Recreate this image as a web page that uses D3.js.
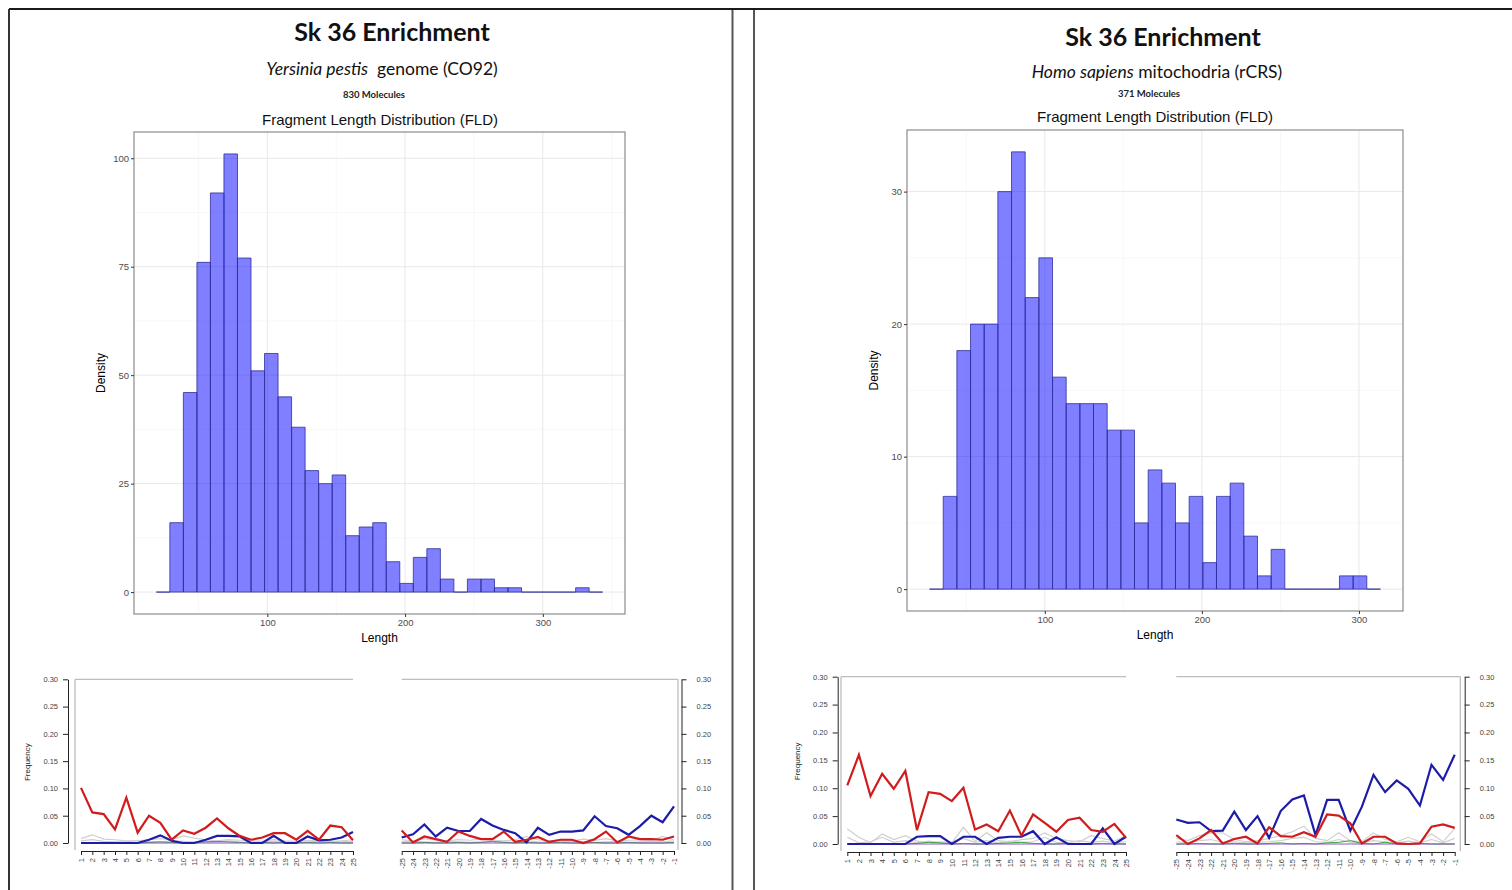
<!DOCTYPE html>
<meta charset="utf-8">
<style>
    body {
        margin: 0;
        background: #fff;
    }

    svg {
        font-family: "Liberation Sans", Arial, sans-serif;
    }

    .hist-axis path { display: none; }
    .hist-axis line { stroke: #333; }
    .hist-axis text { fill: #4d4d4d; font-size: 9.5px; }

    .dmg-axis path, .dmg-axis line { stroke: #222; }
    .dmg-axis text { fill: #444; font-size: 7.5px; }
</style>
<body>
<script src="https://d3js.org/d3.v7.min.js"></script>
<script>
    const width = 1512;
    const height = 890;

    // fragment length histograms (counts per bin)
    const ypCounts = [0, 16, 46, 76, 92, 101, 77, 51, 55, 45, 38, 28, 25, 27, 13, 15, 16, 7, 2, 8, 10, 3, 0, 3, 3, 1, 1, 0, 0, 0, 0, 1, 0];
    const ypBinStart = 19.4, ypBinWidth = 9.82;
    const hsCounts = [0, 7, 18, 20, 20, 30, 33, 22, 25, 16, 14, 14, 14, 12, 12, 5, 9, 8, 5, 7, 2, 7, 8, 4, 1, 3, 0, 0, 0, 0, 1, 1, 0];
    const hsBinStart = 26.6, hsBinWidth = 8.7;
    const ypDensityTicks = [0, 25, 50, 75, 100];
    const hsDensityTicks = [0, 10, 20, 30];
    const lengthTicks = [100, 200, 300];

    // misincorporation plots
    const pos5 = [1, 2, 3, 4, 5, 6, 7, 8, 9, 10, 11, 12, 13, 14, 15, 16, 17, 18, 19, 20, 21, 22, 23, 24, 25];
    const pos3 = [-25, -24, -23, -22, -21, -20, -19, -18, -17, -16, -15, -14, -13, -12, -11, -10, -9, -8, -7, -6, -5, -4, -3, -2, -1];
    const freqTicks = [0, 0.05, 0.10, 0.15, 0.20, 0.25, 0.30];

    const ypCT5 = [0.101, 0.056, 0.053, 0.025, 0.083, 0.019, 0.050, 0.037, 0.006, 0.023, 0.017, 0.028, 0.045, 0.027, 0.013, 0.006, 0.010, 0.018, 0.018, 0.006, 0.022, 0.006, 0.032, 0.029, 0.005];
    const ypGA5 = [0, 0, 0, 0, 0, 0, 0.006, 0.014, 0.004, 0, 0, 0.006, 0.013, 0.013, 0.012, 0, 0, 0.013, 0, 0, 0.012, 0.005, 0.006, 0.010, 0.020];
    const ypGrey5a = [0.008, 0.015, 0.007, 0.006, 0.004, 0.004, 0.006, 0.008, 0.006, 0.013, 0.009, 0.006, 0.004, 0.006, 0.005, 0.004, 0.003, 0.006, 0.004, 0.003, 0.005, 0.004, 0.003, 0.004, 0.006];
    const ypGrey5b = [0.004, 0.006, 0.003, 0.002, 0.002, 0.005, 0.003, 0.002, 0.004, 0.003, 0.002, 0.003, 0.002, 0.004, 0.002, 0.001, 0.002, 0.003, 0.002, 0.001, 0.002, 0.003, 0.002, 0.003, 0.002];
    const ypGreen5 = [0, 0.001, 0, 0, 0.001, 0, 0.001, 0.002, 0.001, 0, 0.001, 0.002, 0.003, 0.002, 0.001, 0, 0.001, 0, 0.001, 0, 0.001, 0, 0.001, 0, 0];
    const ypCT3 = [0.023, 0.001, 0.012, 0.007, 0.002, 0.021, 0.013, 0.007, 0.007, 0.021, 0.002, 0.006, 0.011, 0.002, 0.006, 0.006, 0, 0.007, 0.021, 0.001, 0.012, 0.007, 0.007, 0.006, 0.012];
    const ypGA3 = [0.010, 0.016, 0.034, 0.012, 0.028, 0.022, 0.022, 0.044, 0.032, 0.024, 0.018, 0.001, 0.028, 0.015, 0.021, 0.021, 0.023, 0.049, 0.031, 0.027, 0.015, 0.031, 0.050, 0.038, 0.067];
    const ypGrey3a = [0.006, 0.004, 0.008, 0.005, 0.004, 0.006, 0.005, 0.007, 0.005, 0.004, 0.006, 0.012, 0.006, 0.004, 0.005, 0.004, 0.007, 0.005, 0.008, 0.004, 0.005, 0.006, 0.005, 0.012, 0.006];
    const ypGrey3b = [0.002, 0.003, 0.002, 0.001, 0.003, 0.002, 0.001, 0.002, 0.003, 0.002, 0.001, 0.004, 0.002, 0.001, 0.002, 0.003, 0.002, 0.001, 0.002, 0.003, 0.001, 0.002, 0.003, 0.002, 0.004];
    const ypGreen3 = [0, 0, 0.001, 0, 0, 0.001, 0, 0.001, 0.003, 0.001, 0, 0.001, 0, 0, 0.001, 0, 0, 0.001, 0, 0, 0.001, 0, 0, 0, 0.001];

    const hsCT5 = [0.105, 0.160, 0.086, 0.126, 0.099, 0.131, 0.025, 0.093, 0.090, 0.077, 0.101, 0.026, 0.035, 0.023, 0.060, 0.015, 0.053, 0.038, 0.022, 0.043, 0.047, 0.025, 0.022, 0.036, 0.011];
    const hsGA5 = [0, 0, 0, 0, 0, 0, 0.013, 0.014, 0.014, 0, 0.013, 0.013, 0, 0.011, 0.013, 0.013, 0.023, 0, 0.012, 0, 0, 0, 0.028, 0, 0.013];
    const hsGrey5a = [0.027, 0.012, 0.002, 0.018, 0.008, 0.015, 0.005, 0.003, 0.004, 0.002, 0.030, 0.005, 0.020, 0.006, 0.004, 0.008, 0.010, 0.020, 0.010, 0.006, 0.004, 0.015, 0.010, 0.005, 0.015];
    const hsGrey5b = [0.012, 0.002, 0.004, 0.012, 0.003, 0.006, 0.002, 0.005, 0.002, 0.004, 0.010, 0.003, 0.006, 0.002, 0.005, 0.003, 0.004, 0.012, 0.003, 0.002, 0.006, 0.003, 0.005, 0.002, 0.004];
    const hsGreen5 = [0, 0, 0, 0.001, 0, 0, 0.001, 0.003, 0.002, 0, 0.001, 0, 0, 0.001, 0.002, 0.003, 0.001, 0, 0, 0.001, 0, 0, 0.001, 0, 0];
    const hsCT3 = [0.016, 0, 0.010, 0.025, 0.001, 0.009, 0.013, 0.001, 0.030, 0.014, 0.013, 0.021, 0.013, 0.053, 0.051, 0.037, 0.001, 0.013, 0.013, 0.001, 0, 0.001, 0.031, 0.035, 0.029];
    const hsGA3 = [0.044, 0.038, 0.039, 0.023, 0.024, 0.058, 0.025, 0.050, 0.011, 0.059, 0.080, 0.087, 0.016, 0.079, 0.079, 0.024, 0.067, 0.124, 0.093, 0.114, 0.099, 0.069, 0.142, 0.115, 0.160];
    const hsGrey3a = [0.010, 0.006, 0.015, 0.020, 0.020, 0.008, 0.004, 0.006, 0.010, 0.015, 0.022, 0.032, 0.010, 0.006, 0.020, 0.006, 0.004, 0.020, 0.008, 0.004, 0.012, 0.004, 0.018, 0.004, 0.028];
    const hsGrey3b = [0.004, 0.002, 0.006, 0.008, 0.003, 0.004, 0.002, 0.003, 0.004, 0.006, 0.010, 0.012, 0.004, 0.003, 0.008, 0.003, 0.002, 0.006, 0.004, 0.002, 0.005, 0.002, 0.008, 0.002, 0.010];
    const hsGreen3 = [0, 0, 0.001, 0, 0, 0.001, 0, 0, 0.001, 0.002, 0, 0.001, 0, 0.002, 0.003, 0.006, 0.001, 0, 0.003, 0, 0, 0.001, 0, 0, 0];

    const svg = d3.select('body')
        .append('svg')
        .attr('width', width)
        .attr('height', height);

    // page frame
    svg.append('line').attr('x1', 9).attr('x2', width).attr('y1', 9).attr('y2', 9)
        .attr('stroke', '#1a1a1a').attr('stroke-width', 2);
    svg.append('line').attr('x1', 9).attr('x2', 9).attr('y1', 9).attr('y2', height)
        .attr('stroke', '#333').attr('stroke-width', 2);
    [732.5, 754].forEach(x => {
        svg.append('line').attr('x1', x).attr('x2', x).attr('y1', 10).attr('y2', height)
            .attr('stroke', '#555').attr('stroke-width', 2);
    });

    const panels = [
        {
            species: 'Yersinia pestis', reference: '  genome (CO92)', molecules: '830 Molecules',
            counts: ypCounts, binStart: ypBinStart, binWidth: ypBinWidth, yTicks: ypDensityTicks,
            titleX: 392, textX: 380, textY: [41, 75, 98, 125],
            box: {left: 134, right: 625, top: 132, bottom: 614},
            dmg: {
                yTop: 679.3, yBottom: 843, xAxisY: 851,
                five: {axisX: 68, xFirst: 81, xLast: 353, frameX: 75},
                three: {axisX: 681.5, xFirst: 401.7, xLast: 674, frameX: 678}
            },
            series5: {grey: [ypGrey5a, ypGrey5b], green: ypGreen5, blue: ypGA5, red: ypCT5},
            series3: {grey: [ypGrey3a, ypGrey3b], green: ypGreen3, blue: ypGA3, red: ypCT3}
        },
        {
            species: 'Homo sapiens', reference: ' mitochodria (rCRS)', molecules: '371 Molecules',
            counts: hsCounts, binStart: hsBinStart, binWidth: hsBinWidth, yTicks: hsDensityTicks,
            titleX: 1163, textX: 1155, textY: [46, 78, 97, 122],
            box: {left: 907, right: 1403, top: 130, bottom: 611},
            dmg: {
                yTop: 676.7, yBottom: 844, xAxisY: 852,
                five: {axisX: 837.7, xFirst: 847.3, xLast: 1126, frameX: 841},
                three: {axisX: 1464.7, xFirst: 1176.3, xLast: 1454.7, frameX: 1460.3}
            },
            series5: {grey: [hsGrey5a, hsGrey5b], green: hsGreen5, blue: hsGA5, red: hsCT5},
            series3: {grey: [hsGrey3a, hsGrey3b], green: hsGreen3, blue: hsGA3, red: hsCT3}
        }
    ];

    panels.forEach(drawPanel);

    function drawPanel(p) {
        const g = svg.append('g');

        // titles
        g.append('text')
            .attr('x', p.titleX).attr('y', p.textY[0])
            .attr('text-anchor', 'middle')
            .style('font-family', 'Lato, sans-serif')
            .style('font-weight', 'bold')
            .style('font-size', '25px')
            .style('fill', '#111')
            .text('Sk 36 Enrichment');

        const sub = g.append('text')
            .attr('x', p.textX + 2).attr('y', p.textY[1])
            .attr('text-anchor', 'middle')
            .attr('xml:space', 'preserve')
            .style('white-space', 'pre')
            .style('font-family', 'Lato, sans-serif')
            .style('font-size', '17.5px')
            .style('fill', '#111');
        sub.append('tspan').style('font-style', 'italic').text(p.species);
        sub.append('tspan').text(p.reference);

        g.append('text')
            .attr('x', p.textX - 6).attr('y', p.textY[2])
            .attr('text-anchor', 'middle')
            .style('font-family', 'Lato, sans-serif')
            .style('font-weight', 'bold')
            .style('font-size', '9.5px')
            .style('fill', '#222')
            .text(p.molecules);

        g.append('text')
            .attr('x', p.textX).attr('y', p.textY[3])
            .attr('text-anchor', 'middle')
            .style('font-size', '15px')
            .style('fill', '#111')
            .text('Fragment Length Distribution (FLD)');

        drawHistogram(g, p);
        drawDamage(g, p, p.dmg.five, pos5, p.series5, 'left');
        drawDamage(g, p, p.dmg.three, pos3, p.series3, 'right');
    }

    function drawHistogram(g, p) {
        const b = p.box;
        const bins = p.counts.map((c, i) => ({
            x0: p.binStart + i * p.binWidth,
            x1: p.binStart + (i + 1) * p.binWidth,
            count: c
        }));
        const xMin = bins[0].x0, xMax = bins[bins.length - 1].x1;
        const xPad = (xMax - xMin) * 0.05;
        const yMax = d3.max(p.counts);

        const x = d3.scaleLinear().domain([xMin - xPad, xMax + xPad]).range([b.left, b.right]);
        const y = d3.scaleLinear().domain([-yMax * 0.05, yMax * 1.05]).range([b.bottom, b.top]);

        // grid
        const step = p.yTicks[1] - p.yTicks[0];
        const minorY = p.yTicks.map(t => t + step / 2).filter(t => y(t) > b.top);
        const minorX = [50, 150, 250, 350].filter(t => x(t) > b.left && x(t) < b.right);
        const grid = g.append('g');
        grid.selectAll('.minx').data(minorX).enter().append('line')
            .attr('x1', d => x(d)).attr('x2', d => x(d)).attr('y1', b.top).attr('y2', b.bottom)
            .attr('stroke', '#f4f4f4').attr('stroke-width', 0.6);
        grid.selectAll('.miny').data(minorY).enter().append('line')
            .attr('y1', d => y(d)).attr('y2', d => y(d)).attr('x1', b.left).attr('x2', b.right)
            .attr('stroke', '#f4f4f4').attr('stroke-width', 0.6);
        grid.selectAll('.majx').data(lengthTicks).enter().append('line')
            .attr('x1', d => x(d)).attr('x2', d => x(d)).attr('y1', b.top).attr('y2', b.bottom)
            .attr('stroke', '#e8e8e8').attr('stroke-width', 1);
        grid.selectAll('.majy').data(p.yTicks).enter().append('line')
            .attr('y1', d => y(d)).attr('y2', d => y(d)).attr('x1', b.left).attr('x2', b.right)
            .attr('stroke', '#e8e8e8').attr('stroke-width', 1);

        // bars
        g.append('g').selectAll('path')
            .data(bins)
            .enter().append('path')
            .attr('d', d => 'M' + x(d.x0) + ',' + y(0) + 'V' + y(d.count) + 'H' + x(d.x1) + 'V' + y(0) + 'Z')
            .attr('fill', 'rgba(0,0,255,0.5)')
            .attr('stroke', '#30309a')
            .attr('stroke-width', 0.8);

        // panel border
        g.append('rect')
            .attr('x', b.left).attr('y', b.top)
            .attr('width', b.right - b.left).attr('height', b.bottom - b.top)
            .attr('fill', 'none').attr('stroke', '#8c8c8c').attr('stroke-width', 1.2);

        g.append('g').attr('class', 'hist-axis')
            .attr('transform', 'translate(' + b.left + ',0)')
            .call(d3.axisLeft(y).tickValues(p.yTicks).tickSize(3).tickPadding(2));
        g.append('g').attr('class', 'hist-axis')
            .attr('transform', 'translate(0,' + b.bottom + ')')
            .call(d3.axisBottom(x).tickValues(lengthTicks).tickSize(3).tickPadding(2));

        g.append('text')
            .attr('transform', 'translate(' + (b.left - 29) + ',' + ((b.top + b.bottom) / 2) + ') rotate(-90)')
            .attr('text-anchor', 'middle')
            .style('font-size', '12px')
            .text('Density');
        g.append('text')
            .attr('x', (b.left + b.right) / 2).attr('y', b.bottom + 28)
            .attr('text-anchor', 'middle')
            .style('font-size', '12px')
            .text('Length');
    }

    function drawDamage(g, p, geo, positions, series, side) {
        const d = p.dmg;
        const x = d3.scalePoint().domain(positions).range([geo.xFirst, geo.xLast]);
        const y = d3.scaleLinear().domain([0, 0.30]).range([d.yBottom, d.yTop]);

        // frame (top + outer side)
        const frame = g.append('g').attr('stroke', '#bdbdbd').attr('stroke-width', 1.3);
        const fx0 = side === 'left' ? geo.frameX : geo.xFirst;
        const fx1 = side === 'left' ? geo.xLast : geo.frameX;
        frame.append('line').attr('x1', fx0).attr('x2', fx1).attr('y1', d.yTop).attr('y2', d.yTop);
        frame.append('line').attr('x1', geo.frameX).attr('x2', geo.frameX).attr('y1', d.yTop).attr('y2', d.xAxisY - 1);

        const line = d3.line().x((v, i) => x(positions[i])).y(v => y(v));
        const zeros = positions.map(() => 0);

        series.grey.forEach(s => {
            g.append('path').attr('d', line(s)).attr('fill', 'none')
                .attr('stroke', '#cfcfcf').attr('stroke-width', 1.2);
        });
        g.append('path').attr('d', line(series.green)).attr('fill', 'none')
            .attr('stroke', '#3aa63a').attr('stroke-width', 1);
        g.append('path').attr('d', line(zeros)).attr('fill', 'none')
            .attr('stroke', '#8a4fd0').attr('stroke-width', 1);
        g.append('path').attr('d', line(series.blue)).attr('fill', 'none')
            .attr('stroke', '#1c1ca8').attr('stroke-width', 2.2);
        g.append('path').attr('d', line(series.red)).attr('fill', 'none')
            .attr('stroke', '#d01c1c').attr('stroke-width', 2.2);

        // axes
        const yAxis = side === 'left' ? d3.axisLeft(y) : d3.axisRight(y);
        g.append('g').attr('class', 'dmg-axis')
            .attr('transform', 'translate(' + geo.axisX + ',0)')
            .call(yAxis.tickValues(freqTicks).tickFormat(d3.format('.2f')).tickSize(5).tickPadding(side === 'left' ? 5 : 10).tickSizeOuter(0));

        const xAxis = g.append('g').attr('class', 'dmg-axis')
            .attr('transform', 'translate(0,' + d.xAxisY + ')')
            .call(d3.axisBottom(x).tickSize(4).tickSizeOuter(0).tickPadding(3));
        xAxis.selectAll('text')
            .style('font-size', '7.5px')
            .attr('text-anchor', 'end')
            .attr('dy', '0.35em')
            .attr('transform', 'translate(0,3) rotate(-90)')
            .attr('x', -4).attr('y', 0);

        if (side === 'left') {
            g.append('text')
                .attr('transform', 'translate(' + (geo.axisX - 38) + ',' + ((d.yTop + d.yBottom) / 2 + 1) + ') rotate(-90)')
                .attr('text-anchor', 'middle')
                .style('font-size', '8px')
                .style('fill', '#222')
                .text('Frequency');
        }
    }
</script>
</body>
